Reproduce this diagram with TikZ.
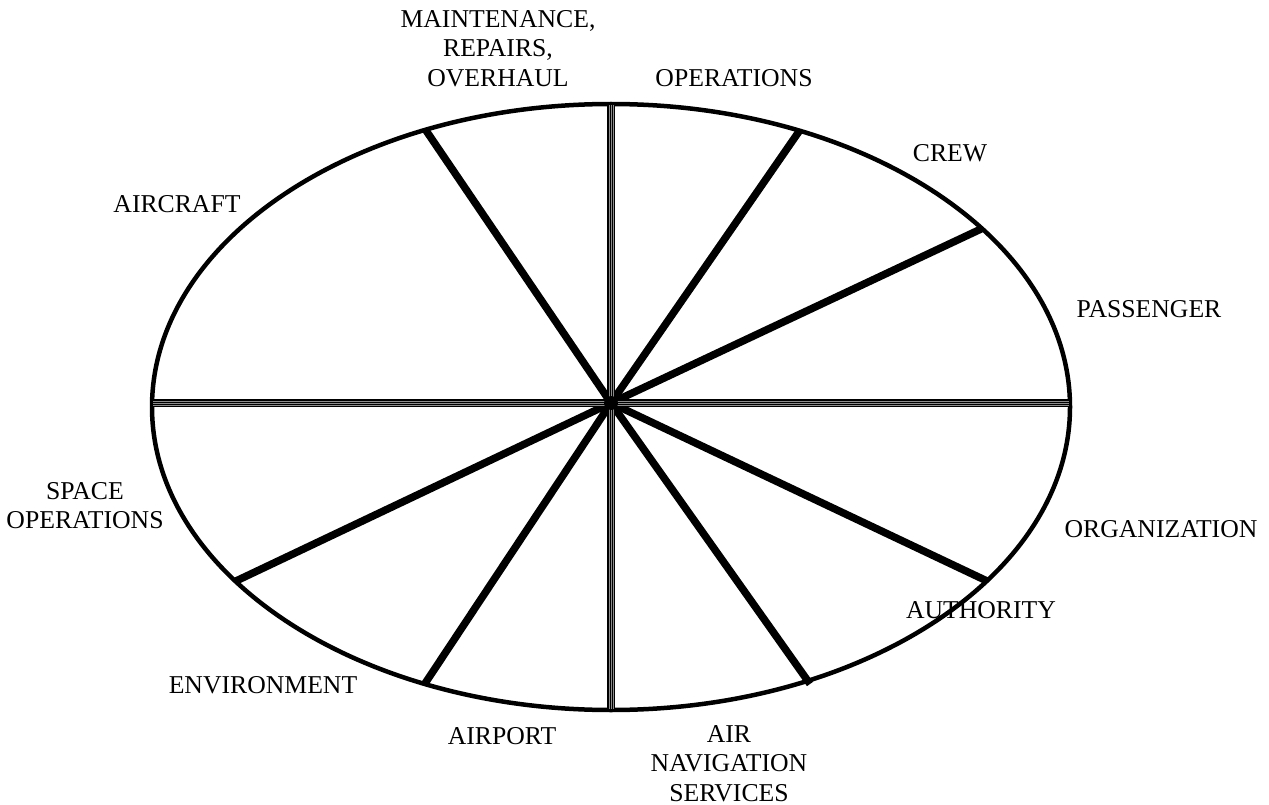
\documentclass[tikz,border=0pt]{standalone}
\usepackage{fontspec}
\setmainfont{Liberation Serif}
\begin{document}
\begin{tikzpicture}[x=1pt,y=-1pt,
  lbl/.style={inner sep=0pt,font=\fontsize{25.7}{29.5}\selectfont},
  lblm/.style={lbl,align=center,anchor=north},
  spoke/.style={line width=7.5pt,black},
  band/.style={line width=8pt,black},
  stripe/.style={line width=0.5pt,black!45}]
\useasboundingbox (0,0) rectangle (1269,805);
% ellipse
\draw[line width=4.5pt] (611,407) ellipse [x radius=459, y radius=303];
% spoke ends
\coordinate (c) at (611,403);
\coordinate (pT) at (611,105);
\coordinate (pB) at (611,709);
\coordinate (pL) at (153,403);
\coordinate (pR) at (1069,403);
\coordinate (p1) at (425,129);
\coordinate (p2) at (800,130);
\coordinate (p3) at (981,229);
\coordinate (p4) at (987,581);
\coordinate (p5) at (810,684);
\coordinate (p6) at (424,685);
\coordinate (p7) at (236,581);
% thick spokes
\foreach \p in {p1,p2,p3,p4,p5,p6,p7} \draw[spoke] (c) -- (\p);
% striped vertical and horizontal diameters
\draw[band] (pT) -- (pB);
\draw[band] (pL) -- (pR);
\foreach \d in {-2,0,2} {
  \draw[stripe] ([xshift=\d pt]pT) -- ([xshift=\d pt]pB);
  \draw[stripe] ([yshift=\d pt]pL) -- ([yshift=\d pt]pR);
}
\fill (c) circle (7pt);
% labels
\node[lblm] (mro) at (498,10) {MAINTENANCE,\\REPAIRS,\\OVERHAUL};
\node[lbl,anchor=base] (ops) at (734,87) {OPERATIONS};
\node[lbl,anchor=base] (crew) at (950,162) {CREW};
\node[lbl,anchor=base] (acft) at (177,213) {AIRCRAFT};
\node[lbl,anchor=base] (pax) at (1149,317) {PASSENGER};
\node[lblm] (space) at (85,482) {SPACE\\OPERATIONS};
\node[lbl,anchor=base] (org) at (1161,537) {ORGANIZATION};
\node[lbl,anchor=base] (auth) at (981,618) {AUTHORITY};
\node[lbl,anchor=base] (env) at (263,693) {ENVIRONMENT};
\node[lbl,anchor=base] (apt) at (502,744) {AIRPORT};
\node[lblm] (ans) at (729,725) {AIR\\NAVIGATION\\SERVICES};
\end{tikzpicture}
\end{document}
